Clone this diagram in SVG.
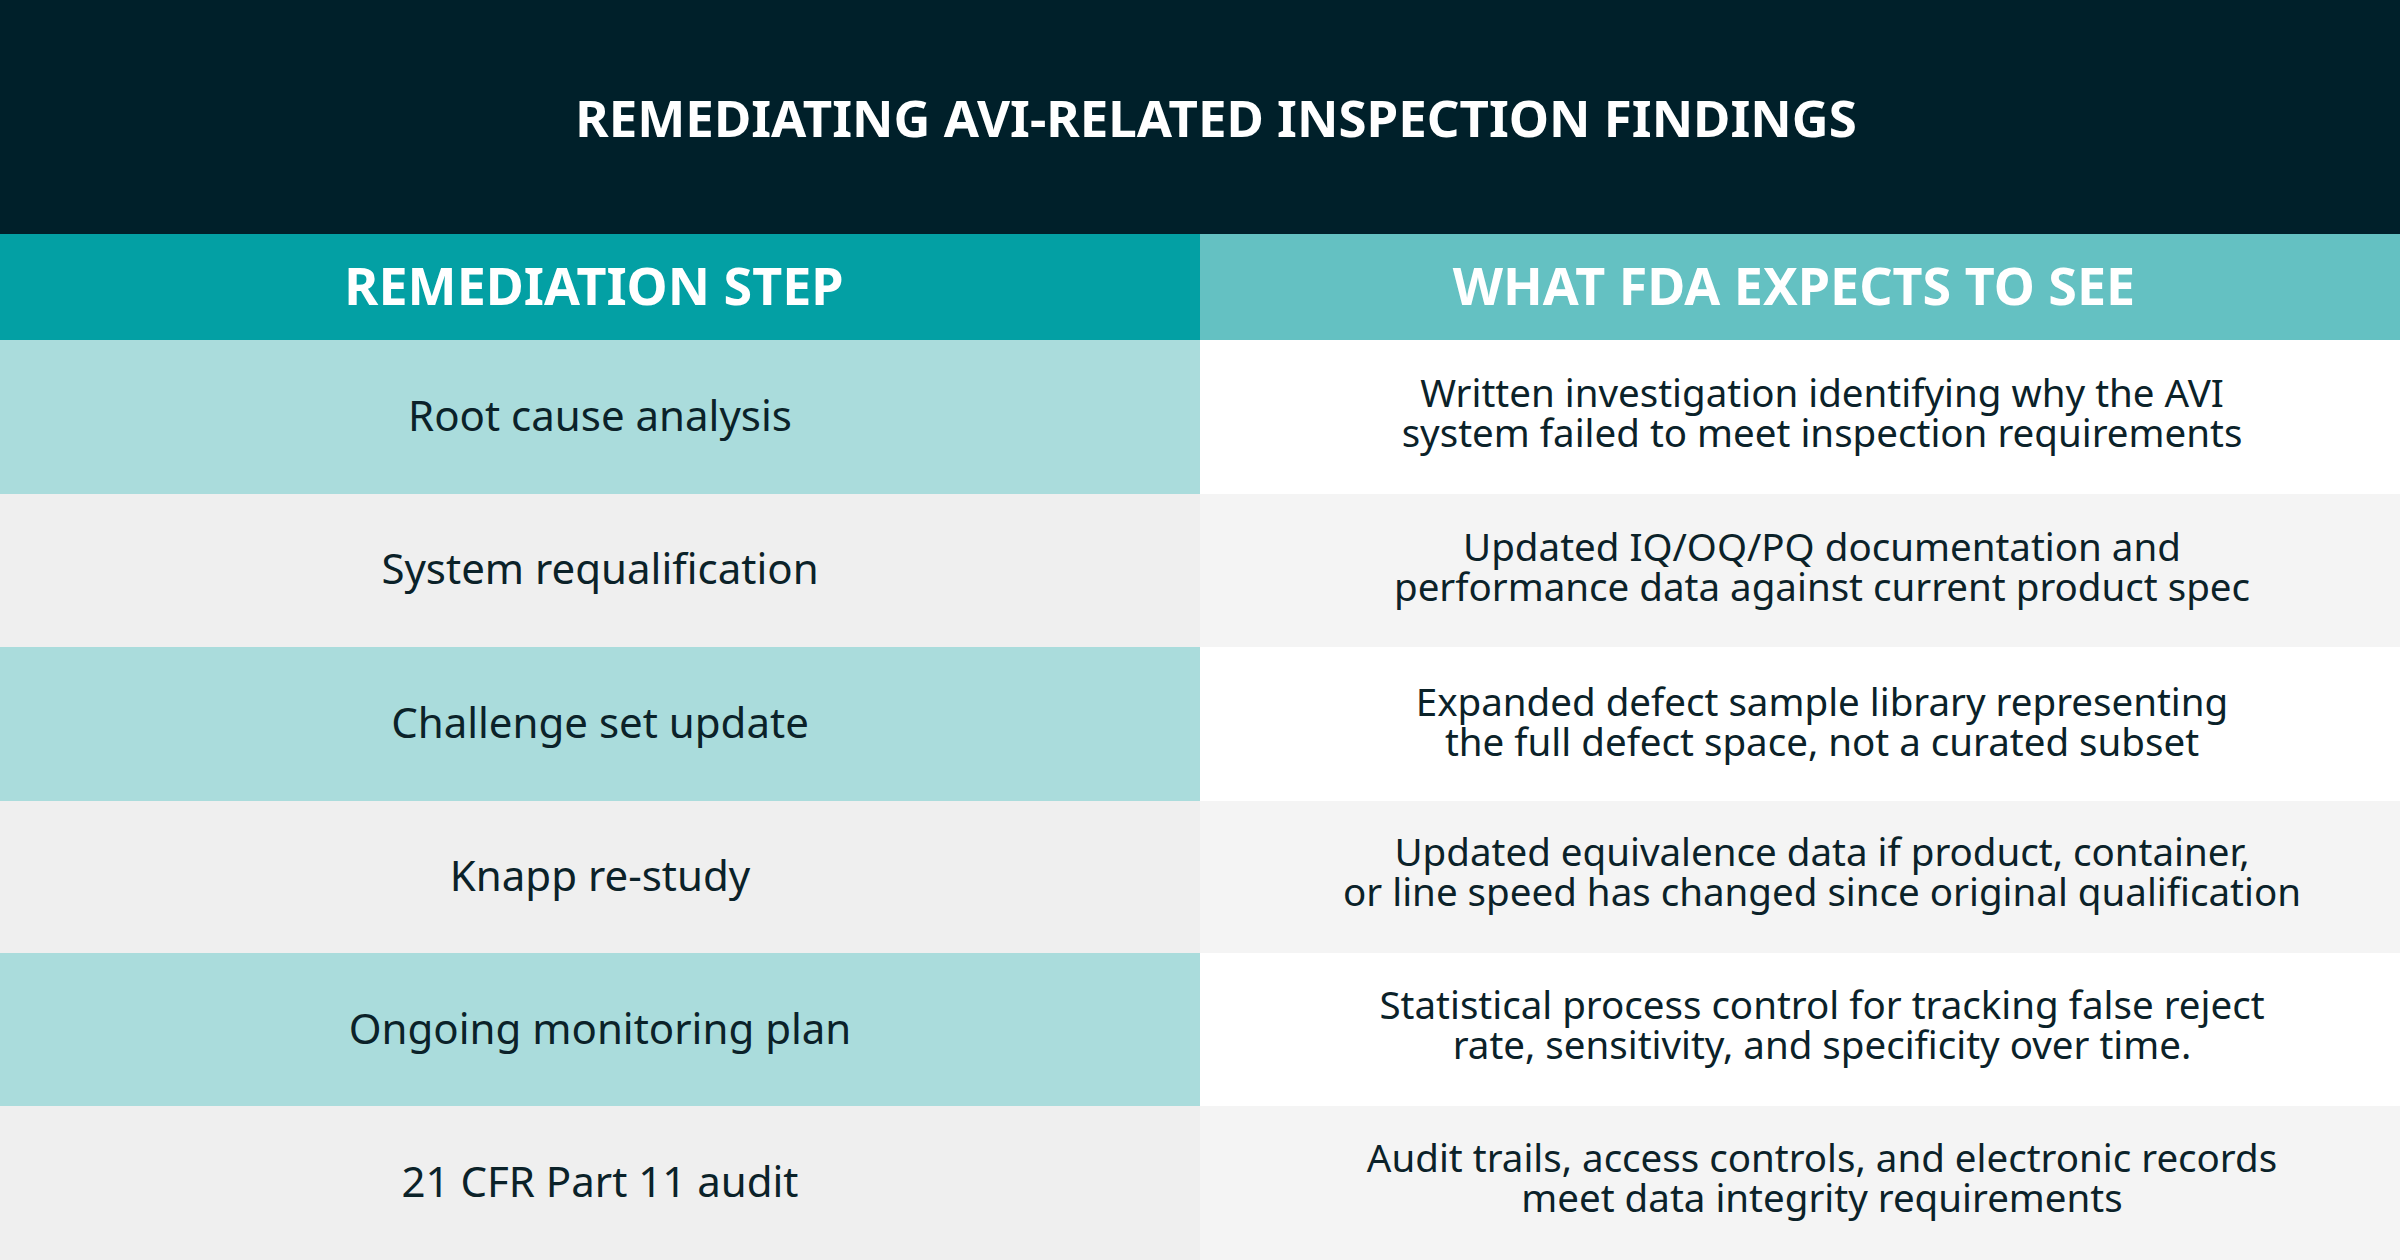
<svg xmlns="http://www.w3.org/2000/svg" width="2400" height="1260" viewBox="0 0 2400 1260">
<style>
text{font-family:"Noto Sans","Open Sans",sans-serif;fill:#0b2229;text-anchor:middle}
.t{font-weight:bold;fill:#fff;font-size:51px}
.h{font-weight:bold;fill:#fff;font-size:52px}
.l{font-size:42px}
.r{font-size:38.5px}
</style>
<rect width="2400" height="1260" fill="#fff"/>
<rect width="2400" height="234" fill="#00202a"/>
<text class="t" x="1216" y="137">REMEDIATING AVI-RELATED INSPECTION FINDINGS</text>
<g id="header">
<rect x="0" y="234" width="1200" height="106" fill="#03a0a4"/>
<rect x="1200" y="234" width="1200" height="106" fill="#64c1c2"/>
<text class="h" x="594" y="305">REMEDIATION STEP</text>
<text class="h" x="1794" y="305">WHAT FDA EXPECTS TO SEE</text>
</g>
<g id="row1"><rect x="0" y="340" width="1200" height="154" fill="#aadcdc"/><rect x="1200" y="340" width="1200" height="154" fill="#fff"/>
<text class="l" x="600" y="431">Root cause analysis</text>
<text class="r" x="1822" y="407">Written investigation identifying why the AVI</text><text class="r" x="1822" y="447">system failed to meet inspection requirements</text></g>
<g id="row2"><rect x="0" y="494" width="1200" height="153" fill="#efefef"/><rect x="1200" y="494" width="1200" height="153" fill="#f4f4f4"/>
<text class="l" x="600" y="584">System requalification</text>
<text class="r" x="1822" y="561">Updated IQ/OQ/PQ documentation and</text><text class="r" x="1822" y="601">performance data against current product spec</text></g>
<g id="row3"><rect x="0" y="647" width="1200" height="154" fill="#aadcdc"/><rect x="1200" y="647" width="1200" height="154" fill="#fff"/>
<text class="l" x="600" y="738">Challenge set update</text>
<text class="r" x="1822" y="716">Expanded defect sample library representing</text><text class="r" x="1822" y="756">the full defect space, not a curated subset</text></g>
<g id="row4"><rect x="0" y="801" width="1200" height="152" fill="#efefef"/><rect x="1200" y="801" width="1200" height="152" fill="#f4f4f4"/>
<text class="l" x="600" y="891">Knapp re-study</text>
<text class="r" x="1822" y="866">Updated equivalence data if product, container,</text><text class="r" x="1822" y="906">or line speed has changed since original qualification</text></g>
<g id="row5"><rect x="0" y="953" width="1200" height="153" fill="#aadcdc"/><rect x="1200" y="953" width="1200" height="153" fill="#fff"/>
<text class="l" x="600" y="1044">Ongoing monitoring plan</text>
<text class="r" x="1822" y="1019">Statistical process control for tracking false reject</text><text class="r" x="1822" y="1059">rate, sensitivity, and specificity over time.</text></g>
<g id="row6"><rect x="0" y="1106" width="1200" height="154" fill="#efefef"/><rect x="1200" y="1106" width="1200" height="154" fill="#f4f4f4"/>
<text class="l" x="600" y="1197">21 CFR Part 11 audit</text>
<text class="r" x="1822" y="1172">Audit trails, access controls, and electronic records</text><text class="r" x="1822" y="1212">meet data integrity requirements</text></g>
</svg>
